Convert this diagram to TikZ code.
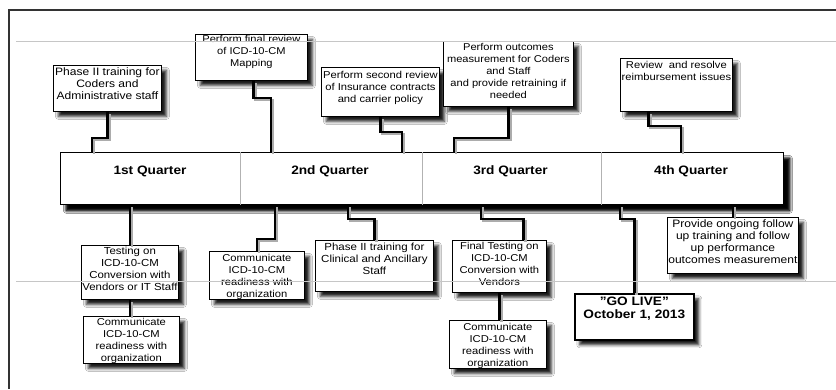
\documentclass[tikz,border=0pt]{standalone}
\usepackage{fontspec}
\setmainfont{Liberation Sans}[FakeStretch=1.12]
\usetikzlibrary{shadows.blur}
\begin{document}
\begin{tikzpicture}[x=1pt,y=-1pt,
  box/.style={draw=black, line width=0.8pt, fill=white, inner sep=0pt, anchor=north west,
     blur shadow={shadow xshift=5pt, shadow yshift=-5pt, shadow blur radius=3pt, shadow opacity=90}},
  txt/.style={inner sep=0pt, align=center, anchor=north, font=\fontsize{#1}{12}\selectfont},
  txt/.default=10.0,
  conn/.style={line width=2.5pt, black, preaction={draw=gray!65, line width=2.5pt, transform canvas={xshift=2.2pt,yshift=-2.2pt}}},
  qlab/.style={font=\bfseries\fontsize{12.2}{13}\selectfont, inner sep=0pt},
  divider/.style={draw=gray!60, line width=0.8pt},
  frame/.style={draw=gray!40!black, line width=1.2pt},
  guide/.style={draw=gray!45, line width=0.6pt}
]
\useasboundingbox (0,0) rectangle (836,389);
\fill[white] (0,0) rectangle (836,389);
\draw[frame] (836,10) -- (9,10) -- (9,389);

% timeline bar
\node[box, minimum width=723pt, minimum height=52pt,
  blur shadow={shadow xshift=6pt, shadow yshift=-6pt, shadow blur radius=3pt, shadow opacity=95}] (bar) at (60,152) {};
\draw[divider] ([xshift=180pt]bar.north west) -- ([xshift=180pt]bar.south west);
\draw[divider] ([xshift=362pt]bar.north west) -- ([xshift=362pt]bar.south west);
\draw[divider] ([xshift=541pt]bar.north west) -- ([xshift=541pt]bar.south west);
\node[qlab] (q1) at (150,171.5) {1st Quarter};
\node[qlab] (q2) at (330,171.5) {2nd Quarter};
\node[qlab] (q3) at (510.5,171.5) {3rd Quarter};
\node[qlab] (q4) at (691,171.5) {4th Quarter};

% boxes above
\node[box, minimum width=108pt, minimum height=46pt] (b1) at (53,65) {};
\node[box, minimum width=112pt, minimum height=46pt] (b2) at (195,34) {};
\node[box, minimum width=118pt, minimum height=49pt] (b3) at (321,67) {};
\node[box, minimum width=130pt, minimum height=65pt] (b4) at (443,41) {};
\node[box, minimum width=112pt, minimum height=53pt] (b5) at (620,58) {};

% boxes below
\node[box, minimum width=97pt, minimum height=54pt] (b6) at (81,245) {};
\node[box, minimum width=96pt, minimum height=47pt] (b7) at (83,316) {};
\node[box, minimum width=95pt, minimum height=48pt] (b8) at (209,251) {};
\node[box, minimum width=118pt, minimum height=51pt] (b9) at (315,240) {};
\node[box, minimum width=94pt, minimum height=52pt] (b10) at (452,240) {};
\node[box, minimum width=97pt, minimum height=48pt] (b11) at (449,320) {};
\node[box, line width=1.6pt, minimum width=119pt, minimum height=46pt] (b12) at (574,293) {};
\node[box, minimum width=131pt, minimum height=56pt] (b13) at (667,217) {};

% texts
\node[txt=10.75] (t1) at ([yshift=-3pt]b1.north) {Phase II training for\\Coders and\\Administrative staff};
\node[txt=9.9] (t2) at ([yshift=-1.5pt]b2.north) {Perform final review\\of ICD-10-CM\\Mapping};
\node[txt=10.0] (t3) at ([yshift=-4pt]b3.north) {Perform second review\\of Insurance contracts\\and carrier policy};
\node[txt=9.9] (t4) at ([yshift=-2pt]b4.north) {Perform outcomes\\measurement for Coders\\and Staff\\and provide retraining if\\needed};
\node[txt=10.0] (t5) at ([yshift=-3pt]b5.north) {Review\ \ and resolve\\reimbursement issues};
\node[txt=10.2] (t6) at ([yshift=-2pt]b6.north) {Testing on\\ICD-10-CM\\Conversion with\\Vendors or IT Staff};
\node[txt] (t7) at ([yshift=-2.5pt]b7.north) {Communicate\\ICD-10-CM\\readiness with\\organization};
\node[txt] (t8) at ([yshift=-3pt]b8.north) {Communicate\\ICD-10-CM\\readiness with\\organization};
\node[txt=10.3] (t9) at ([yshift=-2.5pt]b9.north) {Phase II training for\\Clinical and Ancillary\\Staff};
\node[txt] (t10) at ([yshift=-2pt]b10.north) {Final Testing on\\ICD-10-CM\\Conversion with\\Vendors};
\node[txt] (t11) at ([yshift=-3pt]b11.north) {Communicate\\ICD-10-CM\\readiness with\\organization};
\node[txt, font=\bfseries\fontsize{12.2}{13}\selectfont] (t12) at ([yshift=-4pt]b12.north) {"GO LIVE"\\October 1, 2013};
\node[txt=10.75] (t13) at ([yshift=-2.5pt]b13.north) {Provide ongoing follow\\up training and follow\\up performance\\outcomes measurement};

% connectors above
\draw[conn] (b1.south) -- ++(0,26) -| ([xshift=32pt]bar.north west);
\draw[conn] ([xshift=2pt]b2.south) -- ++(0,17) -| ([xshift=211pt]bar.north west);
\draw[conn] (b3.south) -- ++(0,15) -| ([xshift=342pt]bar.north west);
\draw[conn] (b4.south) -- ++(0,31) -| ([xshift=394pt]bar.north west);
\draw[conn] ([xshift=-28pt]b5.south) -- ++(0,14) -| ([xshift=621pt]bar.north west);

% connectors below
\draw[conn] (b6.north |- bar.south) -- (b6.north);
\draw[conn] (b6.south) -- (b6.south |- b7.north);
\draw[conn] ([xshift=215pt]bar.south west) -- ++(0,34) -| (b8.north);
\draw[conn] ([xshift=288pt]bar.south west) -- ++(0,14) -| (b9.north);
\draw[conn] ([xshift=421pt]bar.south west) -- ++(0,14) -| ([xshift=24pt]b10.north);
\draw[conn] (b10.south) -- (b10.south |- b11.north);
\draw[conn] ([xshift=560pt]bar.south west) -- ++(0,14) -| (b12.north);
\draw[conn] (b13.north |- bar.south) -- (b13.north);

% guide lines drawn over everything
\draw[guide] (16,41) -- (836,41);
\draw[guide] (16,281) -- (836,281);
\end{tikzpicture}
\end{document}
